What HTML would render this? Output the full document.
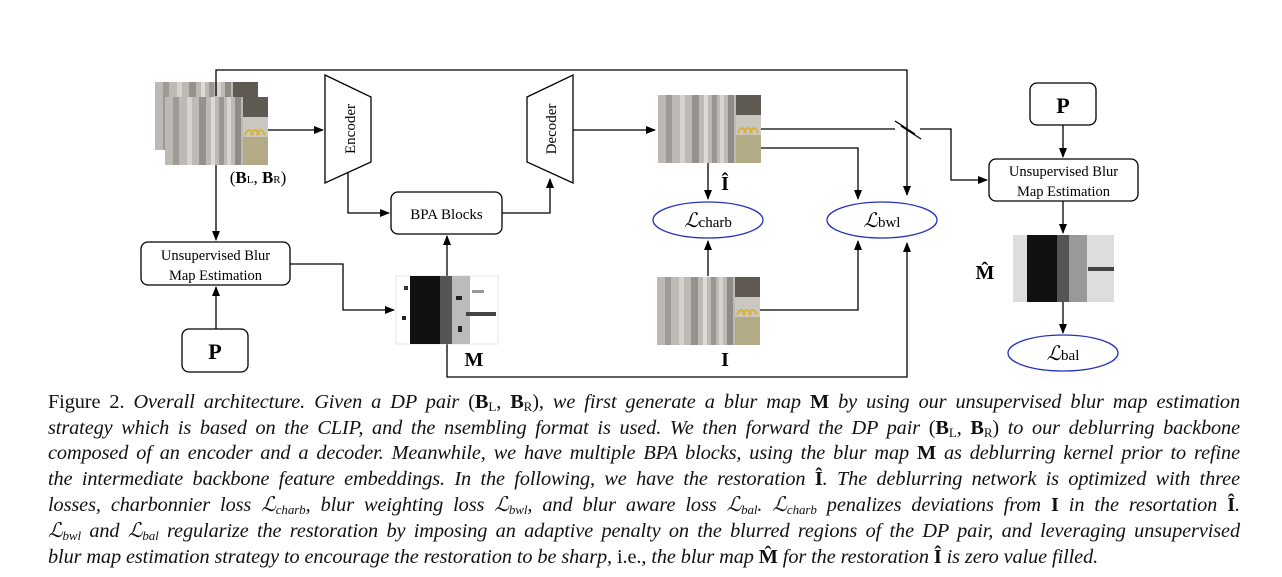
<!DOCTYPE html>
<html><head><meta charset="utf-8"><style>
html,body{margin:0;padding:0;background:#fff;}
body{width:1282px;height:577px;position:relative;overflow:hidden;font-family:"Liberation Serif",serif;}
svg{position:absolute;left:0;top:0;}
.cap{position:absolute;left:48px;width:1192px;font-size:20.3px;font-style:italic;white-space:nowrap;text-align:justify;text-align-last:justify;color:#111;line-height:22px;letter-spacing:-0.1px;}
.n{font-style:normal;}
.b{font-style:normal;font-weight:bold;}
sub{font-size:13px;line-height:0;vertical-align:-3px;}
</style></head><body>
<svg width="1282" height="577" viewBox="0 0 1282 577" font-family="Liberation Serif, serif">
<defs>
<marker id="a" markerWidth="10" markerHeight="8" refX="9" refY="4" orient="auto" markerUnits="userSpaceOnUse"><path d="M0,0 L10,4 L0,8 z" fill="#000"/></marker>
<g id="photo">
<rect x="0" y="0" width="103" height="68" fill="#a9a6a0"/>
<rect x="0" y="0" width="78" height="68" fill="#bdbab5"/>
<rect x="8" y="0" width="6" height="68" fill="#9e9b96"/>
<rect x="22" y="0" width="5" height="68" fill="#d6d3ce"/>
<rect x="34" y="0" width="7" height="68" fill="#95928d"/>
<rect x="46" y="0" width="4" height="68" fill="#dedbd6"/>
<rect x="54" y="0" width="5" height="68" fill="#9a9792"/>
<rect x="62" y="0" width="4" height="68" fill="#d8d5d0"/>
<rect x="70" y="0" width="6" height="68" fill="#8f8c87"/>
<rect x="78" y="0" width="25" height="20" fill="#5e5a52"/>
<rect x="78" y="20" width="25" height="20" fill="#c9c7c0"/>
<rect x="78" y="40" width="25" height="28" fill="#b3aa86"/>
<path d="M80,38 q4,-10 8,0 M86,38 q4,-10 8,0 M92,38 q4,-10 8,0" stroke="#d7b23a" stroke-width="2" fill="none"/>
</g>
</defs>
<g stroke="#000" stroke-width="1.3" fill="none">
<polyline points="216,96 216,70 907,70 907,195" marker-end="url(#a)"/>
<line x1="268" y1="130" x2="323" y2="130" marker-end="url(#a)"/>
<polygon points="325,75 371,97 371,162 325,183" fill="#fff"/>
<polygon points="527,97 573,75 573,183 527,162" fill="#fff"/>
<polyline points="348,173 348,213 389,213" marker-end="url(#a)"/>
<rect x="391" y="192" width="111" height="42" rx="7" fill="#fff"/>
<polyline points="502,213 550,213 550,179" marker-end="url(#a)"/>
<line x1="573" y1="130" x2="655" y2="130" marker-end="url(#a)"/>
<line x1="216" y1="165" x2="216" y2="240" marker-end="url(#a)"/>
<rect x="141" y="242" width="149" height="43" rx="7" fill="#fff"/>
<rect x="182" y="329" width="66" height="43" rx="7" fill="#fff"/>
<line x1="216" y1="329" x2="216" y2="287" marker-end="url(#a)"/>
<polyline points="290,264 343,264 343,310 394,310" marker-end="url(#a)"/>
<line x1="447" y1="276" x2="447" y2="236" marker-end="url(#a)"/>
<polyline points="447,344 447,377 907,377 907,243" marker-end="url(#a)"/>
<line x1="708" y1="162" x2="708" y2="199" marker-end="url(#a)"/>
<line x1="708" y1="276" x2="708" y2="241" marker-end="url(#a)"/>
<polyline points="760,148 858,148 858,199" marker-end="url(#a)"/>
<polyline points="759,310 858,310 858,241" marker-end="url(#a)"/>
<line x1="760" y1="129" x2="895" y2="129"/>
<polyline points="920,129 951,129 951,180 987,180" marker-end="url(#a)"/>
<line x1="895" y1="121" x2="915" y2="134"/>
<line x1="901" y1="126" x2="921" y2="139"/>
<rect x="989" y="159" width="149" height="42" rx="7" fill="#fff"/>
<rect x="1030" y="83" width="66" height="42" rx="7" fill="#fff"/>
<line x1="1063" y1="125" x2="1063" y2="157" marker-end="url(#a)"/>
<line x1="1063" y1="201" x2="1063" y2="233" marker-end="url(#a)"/>
<line x1="1063" y1="302" x2="1063" y2="333" marker-end="url(#a)"/>
</g>
<g stroke="#2233bb" stroke-width="1.3" fill="#fff">
<ellipse cx="708" cy="220" rx="55" ry="18"/>
<ellipse cx="882" cy="220" rx="55" ry="18"/>
<ellipse cx="1063" cy="353" rx="55" ry="18"/>
</g>
<use href="#photo" x="155" y="82"/>
<use href="#photo" x="165" y="97"/>
<line x1="216" y1="82" x2="216" y2="96" stroke="#000" stroke-width="1.3"/>
<use href="#photo" x="658" y="95"/>
<use href="#photo" x="657" y="277"/>
<g transform="translate(396,276)"><rect width="102" height="68" fill="#fff" stroke="#ccc" stroke-width="0.5"/><rect x="14" y="0" width="30" height="68" fill="#111"/><rect x="44" y="0" width="12" height="68" fill="#555"/><rect x="56" y="0" width="18" height="68" fill="#bbb"/><rect x="8" y="10" width="4" height="4" fill="#333"/><rect x="6" y="40" width="4" height="4" fill="#222"/><rect x="60" y="20" width="6" height="4" fill="#222"/><rect x="70" y="36" width="30" height="4" fill="#444"/><rect x="62" y="50" width="4" height="6" fill="#222"/><rect x="76" y="14" width="12" height="3" fill="#999"/></g>
<g transform="translate(1013,235)"><rect width="101" height="67" fill="#ddd"/><rect x="14" y="0" width="30" height="67" fill="#111"/><rect x="44" y="0" width="12" height="67" fill="#555"/><rect x="56" y="0" width="18" height="67" fill="#999"/><rect x="75" y="32" width="26" height="4" fill="#444"/></g>
<g fill="#000">
<text x="258" y="183" font-size="17" text-anchor="middle">(<tspan font-weight="bold">B</tspan><tspan font-size="11">L</tspan>, <tspan font-weight="bold">B</tspan><tspan font-size="11">R</tspan>)</text>
<text transform="translate(355,129) rotate(-90)" font-size="15" text-anchor="middle">Encoder</text>
<text transform="translate(556,129) rotate(-90)" font-size="15" text-anchor="middle">Decoder</text>
<text x="446.5" y="219" font-size="15" text-anchor="middle">BPA Blocks</text>
<text x="215.5" y="260" font-size="14.5" text-anchor="middle">Unsupervised Blur</text>
<text x="215.5" y="280" font-size="14.5" text-anchor="middle">Map Estimation</text>
<text x="1063.5" y="176" font-size="14.5" text-anchor="middle">Unsupervised Blur</text>
<text x="1063.5" y="196" font-size="14.5" text-anchor="middle">Map Estimation</text>
<text x="215" y="359" font-size="22" font-weight="bold" text-anchor="middle">P</text>
<text x="1063" y="113" font-size="22" font-weight="bold" text-anchor="middle">P</text>
<text x="474" y="366" font-size="20" font-weight="bold" text-anchor="middle">M</text>
<text x="725" y="366" font-size="20" font-weight="bold" text-anchor="middle">I</text>
<text x="725" y="190" font-size="20" font-weight="bold" text-anchor="middle">Î</text>
<text x="985" y="279" font-size="20" font-weight="bold" text-anchor="middle">M̂</text>
<text x="708" y="227" font-size="20" text-anchor="middle" font-style="italic">ℒ<tspan font-style="normal" font-size="15">charb</tspan></text>
<text x="882" y="227" font-size="20" text-anchor="middle" font-style="italic">ℒ<tspan font-style="normal" font-size="15">bwl</tspan></text>
<text x="1063" y="360" font-size="20" text-anchor="middle" font-style="italic">ℒ<tspan font-style="normal" font-size="15">bal</tspan></text>
</g>
</svg>
<div class="cap" style="top:391px"><span class="n">Figure 2.</span> Overall architecture. Given a DP pair <span class="n">(<b>B</b><sub>L</sub>, <b>B</b><sub>R</sub>)</span>, we first generate a blur map <b class="b">M</b> by using our unsupervised blur map estimation</div>
<div class="cap" style="top:417px">strategy which is based on the CLIP, and the nsembling format is used. We then forward the DP pair <span class="n">(<b>B</b><sub>L</sub>, <b>B</b><sub>R</sub>)</span> to our deblurring backbone</div>
<div class="cap" style="top:442px">composed of an encoder and a decoder. Meanwhile, we have multiple BPA blocks, using the blur map <b class="b">M</b> as deblurring kernel prior to refine</div>
<div class="cap" style="top:468px">the intermediate backbone feature embeddings. In the following, we have the restoration <b class="b">Î</b>. The deblurring network is optimized with three</div>
<div class="cap" style="top:494px">losses, charbonnier loss ℒ<sub>charb</sub>, blur weighting loss ℒ<sub>bwl</sub>, and blur aware loss ℒ<sub>bal</sub>. ℒ<sub>charb</sub> penalizes deviations from <b class="b">I</b> in the resortation <b class="b">Î</b>.</div>
<div class="cap" style="top:520px">ℒ<sub>bwl</sub> and ℒ<sub>bal</sub> regularize the restoration by imposing an adaptive penalty on the blurred regions of the DP pair, and leveraging unsupervised</div>
<div class="cap" style="top:546px;text-align-last:left;width:auto">blur map estimation strategy to encourage the restoration to be sharp, <span class="n">i.e.,</span> the blur map <b class="b">M̂</b> for the restoration <b class="b">Î</b> is zero value filled.</div>
</body></html>
